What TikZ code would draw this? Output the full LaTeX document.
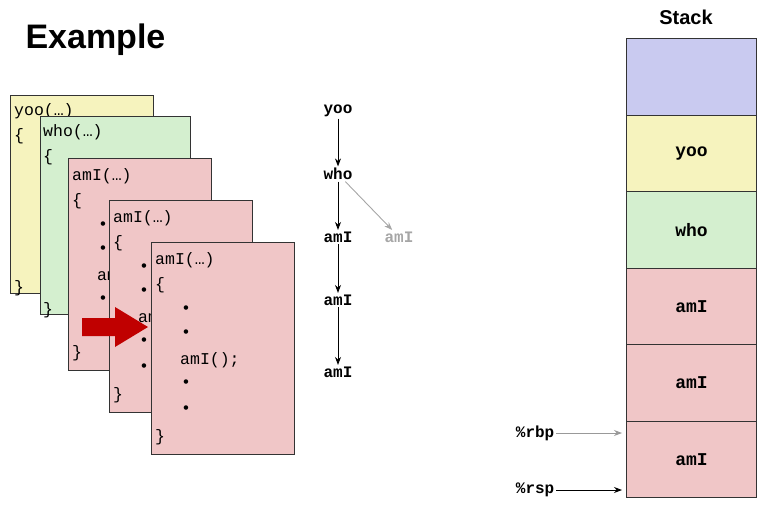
\documentclass[tikz,border=0pt]{standalone}
\usepackage{fontspec}
\usetikzlibrary{arrows.meta}
\setmainfont{Liberation Sans}
\newfontfamily\cmono{Liberation Mono}
\definecolor{cy}{HTML}{F6F3BE}
\definecolor{cg}{HTML}{D4EFCF}
\definecolor{cp}{HTML}{F0C6C7}
\definecolor{cb}{HTML}{C9CAF0}
\definecolor{cr}{HTML}{C00000}
\begin{document}
\begin{tikzpicture}[x=1pt,y=-1pt,
  box/.style={draw=black!80,line width=0.9pt,anchor=north west,inner sep=0},
  code/.style={anchor=west,inner sep=0,font=\cmono\fontsize{16.5}{16.5}\selectfont},
  sk/.style={draw=black!80,line width=0.9pt,minimum width=130,minimum height=76.5,anchor=north west,inner sep=0,font=\cmono\bfseries\fontsize{18}{18}\selectfont},
  cg/.style={inner sep=1.5pt,font=\cmono\bfseries\fontsize{16}{16}\selectfont},
  ar/.style={-{Stealth[length=8pt,width=6pt]},line width=0.9pt}]
\useasboundingbox (0,0) rectangle (765,506);
\node[anchor=west,font=\bfseries\fontsize{34}{34}\selectfont] (title) at (22,40) {Example};
% yoo
\node[box,fill=cy,minimum width=143,minimum height=198] (b0) at (10,95) {};
\node[code] (b0t) at (14,111) {yoo(…)};
\node[code] (b0a) at (14,136) {\{};
\node[code] (b0z) at (14,288) {\}};
% who
\node[box,fill=cg,minimum width=150,minimum height=198] (b1) at (40,116) {};
\node[code] (b1t) at (43,132) {who(…)};
\node[code] (b1a) at (43,157) {\{};
\node[code] (b1z) at (43,310) {\}};
% amI boxes
\foreach \i/\x/\y in {2/68/158,3/109/200,4/151/242}{
  \node[box,fill=cp,minimum width=143,minimum height=212] (b\i) at (\x,\y) {};
  \node[code] (b\i t) at (\x+4,\y+18) {amI(…)};
  \node[code] (b\i a) at (\x+4,\y+43) {\{};
  \node[code] (b\i c) at (\x+30,\y+68) {•};
  \node[code] (b\i d) at (\x+30,\y+92) {•};
  \node[code] (b\i e) at (\x+29,\y+118) {amI();};
  \node[code] (b\i f) at (\x+30,\y+142) {•};
  \node[code] (b\i g) at (\x+30,\y+168) {•};
  \node[code] (b\i z) at (\x+4,\y+195) {\}};
}
% red arrow
\fill[cr] (82,318) -- (115,318) -- (115,307) -- (148,327) -- (115,347) -- (115,336) -- (82,336) -- cycle;
% call graph
\node[cg] (g1) at (338,111) {yoo};
\node[cg] (g2) at (338,174) {who};
\node[cg] (g3) at (338,237) {amI};
\node[cg,text=black!35] (g3b) at (399,237) {amI};
\node[cg] (g4) at (338,300) {amI};
\node[cg] (g5) at (338,372) {amI};
\draw[ar] (g1) -- (g2);
\draw[ar] (g2) -- (g3);
\draw[ar,black!35] (g2) -- (g3b);
\draw[ar] (g3) -- (g4);
\draw[ar] (g4) -- (g5);
% stack
\node[font=\bfseries\fontsize{20}{20}\selectfont] (st) at (686,17) {Stack};
\node[sk,fill=cb] (s0) at (626,38) {};
\node[sk,fill=cy] (s1) at (626,114.5) {yoo};
\node[sk,fill=cg] (s2) at (626,191) {who};
\node[sk,fill=cp] (s3) at (626,267.5) {amI};
\node[sk,fill=cp] (s4) at (626,344) {amI};
\node[sk,fill=cp] (s5) at (626,420.5) {amI};
\node[cg,anchor=east] (rbp) at (556,433) {\%rbp};
\node[cg,anchor=east] (rsp) at (556,490) {\%rsp};
\coordinate (rbpE) at (622,433);
\coordinate (rspE) at (622,490);
\draw[ar,black!40] (rbp) -- (rbpE);
\draw[ar] (rsp) -- (rspE);
\end{tikzpicture}
\end{document}
